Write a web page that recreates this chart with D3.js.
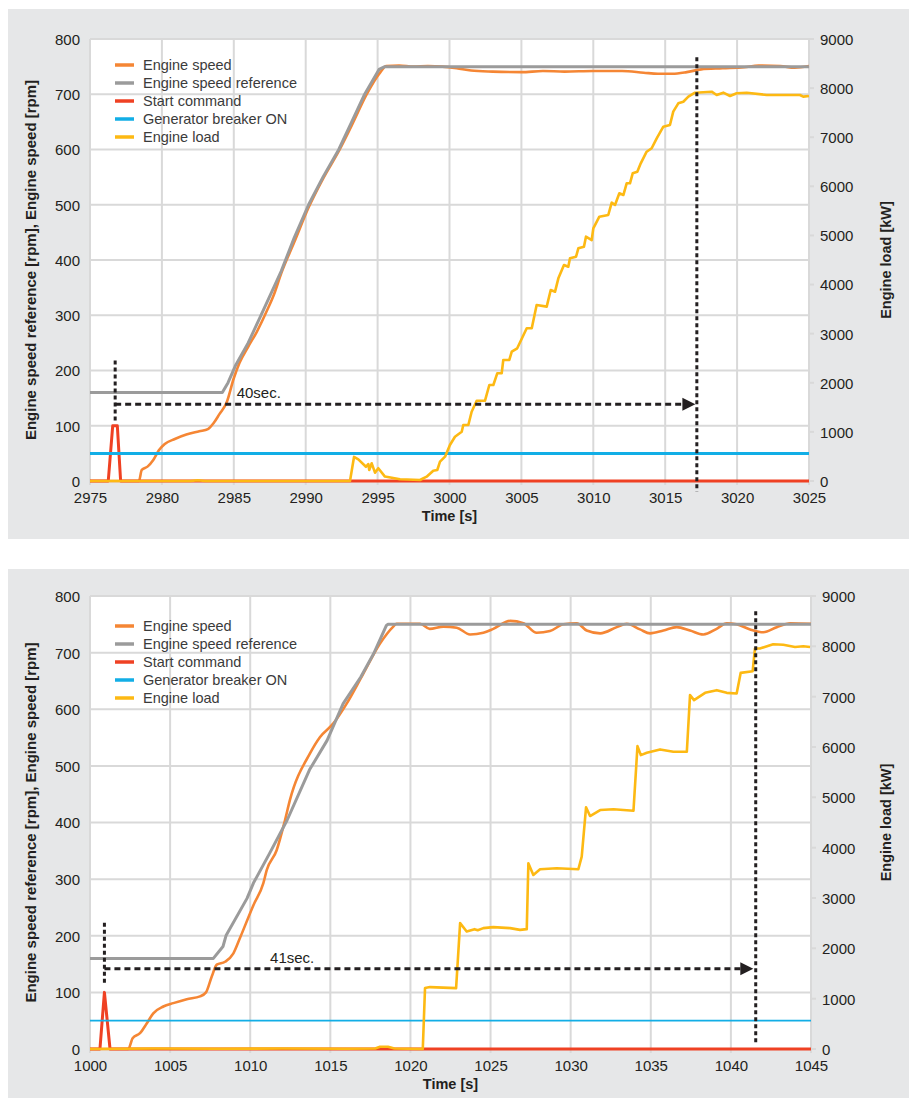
<!DOCTYPE html>
<html>
<head>
<meta charset="utf-8">
<script src="https://cdn.jsdelivr.net/npm/d3@7"></script>
<style>
  body { margin: 0; background: #fff; }
  svg { display: block; font-family: "Liberation Sans", Arial, Helvetica, sans-serif; }
</style>
</head>
<body>
<div id="chart"></div>
<script>
// Start-up test: two runs, engine speed [rpm] on the left axis, load [kW] on the right

var seriesNames = ["Engine speed", "Engine speed reference", "Start command", "Generator breaker ON", "Engine load"];
var seriesColors = ["#f58634", "#9b9b9b", "#ef4123", "#12aee6", "#fdb913"];

var rpmTicks = d3.range(0, 801, 100);
var kwTicks = d3.range(0, 9001, 1000);

// ---- run 1 ----
var p1TimeTicks = d3.range(2975, 3026, 5);

var p1Speed = [[2975,0],[2978.4,0],[2978.6,20],[2979.0,26],[2979.4,38],[2979.8,56],[2980.2,67],[2980.9,76],
  [2981.7,84],[2982.6,90],[2983.2,94],[2983.6,105],[2984.0,121],[2984.5,142],[2985.0,186],[2985.4,214],
  [2986.0,243],[2986.6,270],[2987.3,308],[2987.8,338],[2988.3,376],[2989.2,432],[2990.2,495],[2991.2,547],
  [2992.3,597],[2993.3,649],[2994.2,698],[2995.2,740],[2995.6,751],[2996.5,752],[2997.5,750],[2998.5,751],
  [2999.5,750],[3000.5,747],[3001.5,743],[3003,741],[3005,740],[3006.5,742],[3008,741],[3010,742],
  [3012,742],[3013.5,739],[3014.5,737],[3015.5,737],[3016.5,740],[3017.5,745],[3019,747],[3020.5,749],
  [3021.5,752],[3023,751],[3024,748],[3025,751]];

var p1Ref = [[2975,160],[2984.2,160],[2984.6,178],[2985.1,208],[2986.0,250],[2986.8,295],[2987.6,340],
  [2988.3,380],[2989.2,440],[2990.2,500],[2991.2,550],[2992.3,600],[2993.2,650],[2994.1,700],[2995.1,745],
  [2995.5,750],[3025,750]];

var p1Start = [[2975,0],[2976.27,0],[2976.58,100],[2976.9,100],[2977.13,0],[3025,0]];

var p1Breaker = [[2975,50],[3025,50]];

var p1Load = [[2975,0],[2982,0],[2982.5,15],[2983,0],[2993.08,0],[2993.36,490],[2993.66,440],[2994.19,290],
  [2994.35,345],[2994.42,225],[2994.59,360],[2994.82,170],[2995.05,260],[2995.51,90],[2996.56,35],[2997.95,20],
  [2998.41,88],[2998.87,210],[2999.15,224],[2999.34,393],[2999.69,495],[3000.03,733],[3000.38,902],
  [3000.85,1004],[3000.96,1140],[3001.31,1140],[3001.54,1411],[3001.89,1635],[3002.47,1635],[3002.77,1955],
  [3003.05,1955],[3003.32,2193],[3003.63,2193],[3003.74,2464],[3004.16,2464],[3004.33,2633],[3004.71,2702],
  [3005.37,3109],[3005.72,3109],[3006.06,3584],[3006.76,3550],[3007.04,3889],[3007.34,3855],[3007.57,4127],
  [3007.96,4398],[3008.26,4364],[3008.38,4535],[3008.80,4567],[3008.96,4738],[3009.35,4771],[3009.49,4975],
  [3009.89,4907],[3010.00,5145],[3010.42,5382],[3011.04,5416],[3011.28,5667],[3011.51,5620],[3011.81,5858],
  [3012.09,5823],[3012.32,6062],[3012.55,6062],[3012.74,6265],[3013.06,6298],[3013.30,6469],[3013.71,6705],
  [3014.06,6775],[3014.41,6978],[3014.87,7214],[3015.33,7249],[3015.56,7520],[3015.91,7690],[3016.26,7723],
  [3016.61,7826],[3017.07,7907],[3018.23,7927],[3018.58,7860],[3019.04,7907],[3019.51,7840],[3019.97,7894],
  [3020.67,7907],[3022.06,7860],[3023.21,7860],[3024.37,7860],[3024.6,7826],[3025,7840]];

// start marker [t, top rpm, bottom rpm], arrow [rpm, end t], end marker [t, top rpm, bottom rpm], label [text, t, rpm]
var p1StartMark = [2976.75, 218, 104];
var p1Arrow = [139, 3017.1];
var p1EndMark = [3017.2, 767, -19];
var p1Label = ["40sec.", 2985.2, 150];

// ---- run 2 ----
var p2TimeTicks = d3.range(1000, 1046, 5);

var p2Speed = [[1000,0],[1002.39,0],[1002.66,19],[1003.12,28],[1003.54,45],[1003.95,63],[1004.58,75],
  [1005.2,81],[1006.04,88],[1006.87,93],[1007.24,100],[1007.6,128],[1007.91,149],[1008.43,154],[1008.95,169],
  [1009.36,196],[1010.2,254],[1010.82,293],[1011.03,316],[1011.65,351],[1012.17,404],[1012.48,440],
  [1013.73,522],[1014.36,551],[1015.19,575],[1016.02,610],[1017.06,663],[1018.1,716],[1018.93,746],
  [1019.13,751],[1020.6,751],[1021.2,742],[1022.06,746],[1022.89,744],[1023.72,732],[1024.55,735],
  [1025.17,742],[1026.22,756],[1027.05,752],[1027.88,735],[1028.71,738],[1029.54,750],[1030.38,752],
  [1031.0,739],[1031.84,734],[1032.88,745],[1033.5,751],[1034.33,741],[1034.96,734],[1035.79,739],
  [1036.62,745],[1037.45,739],[1038.28,732],[1039.11,742],[1039.74,752],[1040.36,750],[1041.2,741],
  [1042.03,736],[1042.86,745],[1043.7,752],[1045,751]];

var p2Ref = [[1000,160],[1007.7,160],[1008.3,181],[1008.5,201],[1009.8,266],[1010.2,293],[1011.2,345],
  [1012.3,404],[1013.7,493],[1014.8,545],[1015.8,610],[1016.9,657],[1017.7,698],[1018.5,748],[1018.6,750],
  [1045,750]];

var p2Start = [[1000,0],[1000.62,0],[1000.9,100],[1001.25,0],[1045,0]];

var p2Breaker = [[1000,50],[1045,50]];

var p2Load = [[1000,0],[1004,10],[1008,5],[1012,10],[1016,5],[1017.8,10],[1018.1,45],[1018.6,45],[1019,10],
  [1020.77,0],[1020.91,1210],[1021.22,1230],[1022.85,1210],[1023.1,2500],[1023.51,2334],[1024.0,2381],
  [1024.2,2360],[1024.55,2401],[1025.17,2421],[1026.22,2401],[1026.84,2367],[1027.26,2381],[1027.36,3690],
  [1027.67,3458],[1028.09,3571],[1029.13,3591],[1030.48,3571],[1030.69,3822],[1030.96,4802],[1031.21,4629],
  [1031.84,4748],[1032.67,4762],[1033.92,4735],[1034.17,6018],[1034.38,5839],[1034.75,5885],[1035.58,5952],
  [1036.41,5905],[1037.25,5905],[1037.45,7030],[1037.7,6931],[1038.39,7076],[1039.12,7129],[1039.74,7076],
  [1040.36,7063],[1040.61,7472],[1041.36,7506],[1041.5,7956],[1041.81,7956],[1042.64,8042],[1043.27,8030],
  [1044.0,7988],[1044.52,8002],[1044.94,7988]];

var p2StartMark = [1000.9, 223, 113];
var p2Arrow = [141.6, 1041.4];
var p2EndMark = [1041.55, 773, 7];
var p2Label = ["41sec.", 1011.24, 152];


var width = 914;
var height = 1099;

var svg = d3.select("#chart")
  .append("svg")
  .attr("width", width)
  .attr("height", height);

var textColor = "#231f20";
var gridColor = "#d9d9d9";

function drawPanel(p) {
  var g = svg.append("g");

  // grey card behind the chart
  g.append("rect")
    .attr("x", p.box[0]).attr("y", p.box[1])
    .attr("width", p.box[2]).attr("height", p.box[3])
    .attr("fill", "#e6e7e8");

  var x = d3.scaleLinear()
    .domain(d3.extent(p.timeTicks))
    .range([p.left, p.right]);
  var yL = d3.scaleLinear().domain([0, 800]).range([p.bottom, p.top]);
  var yR = d3.scaleLinear().domain([0, 9000]).range([p.bottom, p.top]);

  g.append("rect")
    .attr("x", p.left).attr("y", p.top)
    .attr("width", p.right - p.left).attr("height", p.bottom - p.top)
    .attr("fill", "#fff");

  // vertical grid lines, running a bit under the axis like ticks
  g.append("g")
    .selectAll("line")
    .data(p.timeTicks)
    .enter()
    .append("line")
    .attr("x1", function(d) { return x(d); })
    .attr("x2", function(d) { return x(d); })
    .attr("y1", p.top)
    .attr("y2", p.bottom + 4)
    .attr("stroke", gridColor)
    .attr("stroke-width", 2);

  g.append("g")
    .selectAll("line")
    .data(rpmTicks)
    .enter()
    .append("line")
    .attr("x1", p.left)
    .attr("x2", p.right)
    .attr("y1", function(d) { return yL(d); })
    .attr("y2", function(d) { return yL(d); })
    .attr("stroke", gridColor)
    .attr("stroke-width", 2);

  // right axis ticks
  g.append("g")
    .selectAll("line")
    .data(kwTicks)
    .enter()
    .append("line")
    .attr("x1", p.right)
    .attr("x2", p.right + 5)
    .attr("y1", function(d) { return yR(d); })
    .attr("y2", function(d) { return yR(d); })
    .attr("stroke", gridColor)
    .attr("stroke-width", 2);

  // axes (labels only, the lines are the grid)
  var fmt = d3.format("d");
  var xAxis = d3.axisBottom(x).tickValues(p.timeTicks).tickFormat(fmt).tickSize(0).tickPadding(0);
  var leftAxis = d3.axisLeft(yL).tickValues(rpmTicks).tickFormat(fmt).tickSize(0).tickPadding(0);
  var rightAxis = d3.axisRight(yR).tickValues(kwTicks).tickFormat(fmt).tickSize(0).tickPadding(0);

  var xa = g.append("g")
    .attr("transform", "translate(0," + p.bottom + ")")
    .call(xAxis);
  var la = g.append("g")
    .attr("transform", "translate(" + (p.left - 10) + ",0)")
    .call(leftAxis);
  var ra = g.append("g")
    .attr("transform", "translate(" + (p.right + 11) + ",0)")
    .call(rightAxis);

  [xa, la, ra].forEach(function(a) {
    a.select(".domain").remove();
    a.selectAll("text")
      .attr("fill", textColor)
      .style("font-size", "15px")
      .style("font-family", "'Liberation Sans', Arial, sans-serif");
  });
  xa.selectAll("text").attr("dy", null).attr("y", 22);
  la.selectAll("text").attr("dy", "0.36em");
  ra.selectAll("text").attr("dy", "0.36em");

  // axis titles
  g.append("text")
    .attr("x", (p.left + p.right) / 2)
    .attr("y", p.bottom + 40)
    .attr("text-anchor", "middle")
    .attr("font-size", 14.5)
    .attr("font-weight", "bold")
    .attr("fill", textColor)
    .text("Time [s]");

  g.append("text")
    .attr("transform", "translate(36," + (p.top + p.bottom) / 2 + ")rotate(-90)")
    .attr("text-anchor", "middle")
    .attr("font-size", 15)
    .attr("font-weight", "bold")
    .attr("fill", textColor)
    .text("Engine speed reference [rpm], Engine speed [rpm]");

  g.append("text")
    .attr("transform", "translate(891," + (p.top + p.bottom) / 2 + ")rotate(-90)")
    .attr("text-anchor", "middle")
    .attr("font-size", 14.5)
    .attr("font-weight", "bold")
    .attr("fill", textColor)
    .text("Engine load [kW]");

  // series
  var lineL = d3.line()
    .x(function(d) { return x(d[0]); })
    .y(function(d) { return yL(d[1]); });
  var lineSmooth = d3.line()
    .curve(d3.curveMonotoneX)
    .x(function(d) { return x(d[0]); })
    .y(function(d) { return yL(d[1]); });
  var lineR = d3.line()
    .x(function(d) { return x(d[0]); })
    .y(function(d) { return yR(d[1]); });

  var series = [
    { data: p.speed, path: lineSmooth, color: seriesColors[0], w: 2.6 },
    { data: p.ref, path: lineL, color: seriesColors[1], w: 3 },
    { data: p.start, path: lineL, color: seriesColors[2], w: 3 },
    { data: p.breaker, path: lineL, color: seriesColors[3], w: p.breakerWidth },
    { data: p.load, path: lineR, color: seriesColors[4], w: 2.6 }
  ];

  series.forEach(function(s) {
    g.append("path")
      .datum(s.data)
      .attr("d", s.path)
      .attr("fill", "none")
      .attr("stroke", s.color)
      .attr("stroke-width", s.w)
      .attr("stroke-linejoin", "round");
  });

  // legend
  var legend = g.append("g");
  seriesNames.forEach(function(name, i) {
    var ly = p.legendY + i * 18;
    legend.append("line")
      .attr("x1", 115).attr("x2", 134)
      .attr("y1", ly).attr("y2", ly)
      .attr("stroke", seriesColors[i])
      .attr("stroke-width", 3.5);
    legend.append("text")
      .attr("x", 143)
      .attr("y", ly)
      .attr("dy", "0.36em")
      .attr("font-size", 14.5)
      .attr("fill", "#3b3b3b")
      .text(name);
  });

  // timing annotation
  var dark = "#231f20";
  g.append("line")
    .attr("x1", x(p.startMark[0])).attr("x2", x(p.startMark[0]))
    .attr("y1", yL(p.startMark[1])).attr("y2", yL(p.startMark[2]))
    .attr("stroke", dark).attr("stroke-width", 3)
    .attr("stroke-dasharray", "4,3");

  g.append("line")
    .attr("x1", x(p.startMark[0])).attr("x2", x(p.arrow[1]) - 12)
    .attr("y1", yL(p.arrow[0])).attr("y2", yL(p.arrow[0]))
    .attr("stroke", dark).attr("stroke-width", 3)
    .attr("stroke-dasharray", "6,4");

  var tipX = x(p.arrow[1]);
  var tipY = yL(p.arrow[0]);
  g.append("path")
    .attr("d", "M" + tipX + "," + tipY + "L" + (tipX - 13) + "," + (tipY - 6.5) + "L" + (tipX - 13) + "," + (tipY + 6.5) + "Z")
    .attr("fill", dark);

  g.append("line")
    .attr("x1", x(p.endMark[0])).attr("x2", x(p.endMark[0]))
    .attr("y1", yL(p.endMark[1])).attr("y2", yL(p.endMark[2]))
    .attr("stroke", dark).attr("stroke-width", 3)
    .attr("stroke-dasharray", "4,3");

  g.append("text")
    .attr("x", x(p.label[1]))
    .attr("y", yL(p.label[2]))
    .attr("font-size", 15)
    .attr("fill", dark)
    .text(p.label[0]);
}

drawPanel({
  box: [8, 9, 901, 530],
  left: 90, right: 809, top: 39, bottom: 481,
  legendY: 65,
  breakerWidth: 3,
  timeTicks: p1TimeTicks,
  speed: p1Speed, ref: p1Ref, start: p1Start, breaker: p1Breaker, load: p1Load,
  startMark: p1StartMark, arrow: p1Arrow, endMark: p1EndMark, label: p1Label
});

drawPanel({
  box: [8, 569, 901, 529],
  left: 90, right: 811, top: 596, bottom: 1049,
  legendY: 626,
  breakerWidth: 1.8,
  timeTicks: p2TimeTicks,
  speed: p2Speed, ref: p2Ref, start: p2Start, breaker: p2Breaker, load: p2Load,
  startMark: p2StartMark, arrow: p2Arrow, endMark: p2EndMark, label: p2Label
});
</script>
</body>
</html>
